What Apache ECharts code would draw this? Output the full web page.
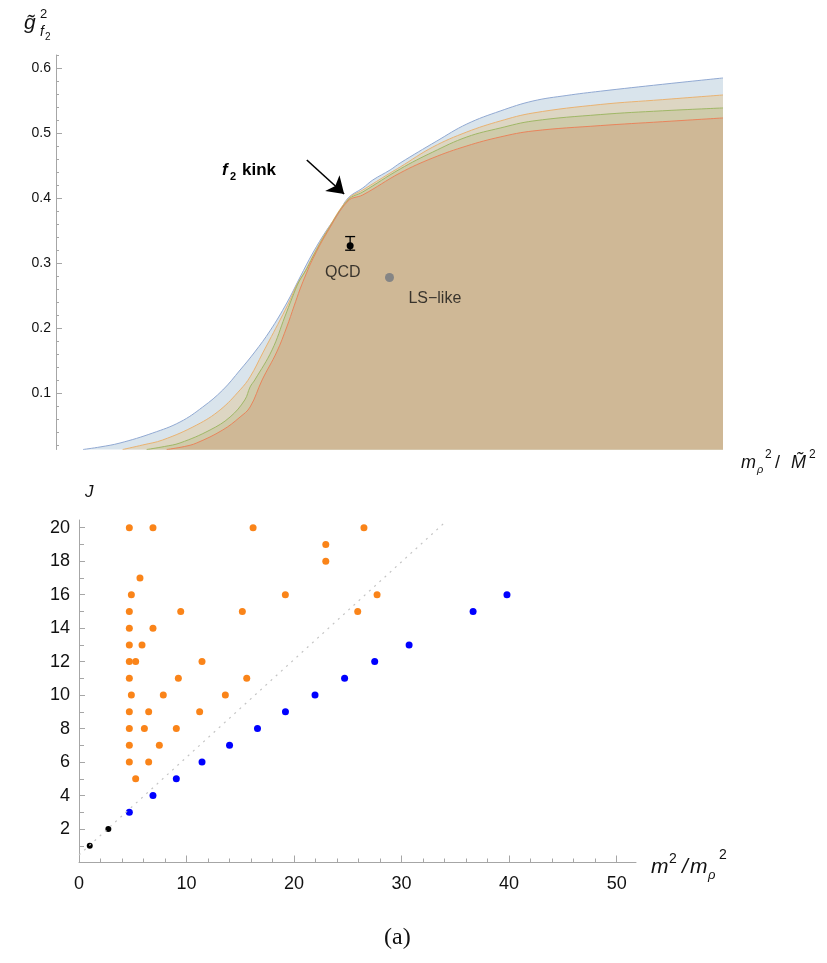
<!DOCTYPE html>
<html><head><meta charset="utf-8">
<script src="https://cdn.jsdelivr.net/npm/echarts@6/dist/echarts.min.js"></script>
<style>html,body{margin:0;padding:0;background:#fff}#c{width:827px;height:963px}</style>
</head><body><div id="c"></div>
<script>
// ---------- Top panel: g~^2_f2 bounds vs m_rho^2 / M~^2 (hidden x scale 0..1) ----------
const blueX = [0.0405,0.066,0.096,0.145,0.186,0.220,0.250,0.276,0.298,0.321,0.346,0.366,0.385,0.406,0.423,0.438,0.460,0.475,0.501,0.516,0.571,0.616,0.666,0.715,0.766,0.816,0.909,1.0];
const blueY = [0.0129,0.0168,0.0229,0.0383,0.0553,0.0784,0.1046,0.1354,0.1632,0.1960,0.2387,0.2787,0.3157,0.3512,0.3758,0.4005,0.4159,0.4282,0.4437,0.4544,0.4883,0.5145,0.5345,0.5499,0.5585,0.5650,0.5756,0.5854];
const orangeX = [0.100,0.130,0.160,0.211,0.246,0.276,0.291,0.310,0.336,0.351,0.361,0.372,0.385,0.406,0.438,0.460,0.501,0.516,0.565,0.616,0.666,0.715,0.816,0.909,1.0];
const orangeY = [0.0129,0.0199,0.0276,0.0507,0.0739,0.1048,0.1248,0.1618,0.2126,0.2435,0.2664,0.2850,0.3111,0.3496,0.3990,0.4128,0.4390,0.4482,0.4790,0.5022,0.5191,0.5314,0.5445,0.5520,0.5592];
const greenX = [0.136,0.163,0.186,0.231,0.261,0.283,0.291,0.298,0.324,0.343,0.354,0.364,0.375,0.385,0.406,0.438,0.460,0.516,0.565,0.616,0.666,0.715,0.816,0.909,1.0];
const greenY = [0.0129,0.0176,0.0230,0.0430,0.0630,0.0892,0.1093,0.1200,0.1664,0.2172,0.2464,0.2711,0.2896,0.3096,0.3482,0.3975,0.4098,0.4452,0.4713,0.4945,0.5083,0.5191,0.5290,0.5348,0.5392];
const redX = [0.166,0.193,0.211,0.250,0.276,0.291,0.309,0.331,0.346,0.357,0.366,0.375,0.385,0.406,0.438,0.460,0.516,0.565,0.616,0.666,0.715,0.816,0.909,1.0];
const redY = [0.0129,0.0176,0.0230,0.0430,0.0630,0.0784,0.1200,0.1633,0.2017,0.2341,0.2603,0.2834,0.3065,0.3466,0.3960,0.4052,0.4391,0.4622,0.4807,0.4945,0.5037,0.5120,0.5180,0.5238];
const qcdPoint = [0.441, 0.327];
const qcdErr = [0.320, 0.341];
const lsPoint = [0.500, 0.278];
const qcdLabelPos = [0.430, 0.286];
const lsLabelPos = [0.568, 0.246];
const kinkArrow = [[0.376, 0.459], [0.432, 0.4066]];
const topYLabels = [0.1,0.2,0.3,0.4,0.5,0.6];
const topYMinor = [0.02,0.04,0.06,0.08,0.12,0.14,0.16,0.18,0.22,0.24,0.26,0.28,0.32,0.34,0.36,0.38,0.42,0.44,0.46,0.48,0.52,0.54,0.56,0.58,0.62];

// ---------- Bottom panel: J vs m^2/m_rho^2 ----------
const blackX = [1.0, 2.73];
const blackJ = [1, 2];
const blueSX = [4.68,6.88,9.05,11.44,14.0,16.6,19.2,21.95,24.7,27.5,30.7,36.65,39.8];
const blueSJ = [3,4,5,6,7,8,9,10,11,12,13,15,16];
const orangeSX = [4.68,6.88,16.19,26.5, 22.95, 22.95, 5.67, 4.87,19.19,27.72, 4.68,9.46,15.19,25.92, 4.68,6.88, 4.68,5.86, 4.68,5.27,11.44, 4.68,9.24,15.6, 4.87,7.84,13.61, 4.68,6.48,11.22, 4.68,6.08,9.05, 4.68,7.47, 4.68,6.48, 5.27];
const orangeSJ = [20,20,20,20, 19, 18, 17, 16,16,16, 15,15,15,15, 14,14, 13,13, 12,12,12, 11,11,11, 10,10,10, 9,9,9, 8,8,8, 7,7, 6,6, 5];
const guideX = [0, 34];
const guideJ = [0.45, 20.3];
const botXLabels = [0,10,20,30,40,50];
const botXMinor = [2,4,6,8,12,14,16,18,22,24,26,28,32,34,36,38,42,44,46,48];
const botYLabels = [2,4,6,8,10,12,14,16,18,20];
const botYMinor = [1,3,5,7,9,11,13,15,17,19];

const zip = (a, b) => a.map((v, i) => [v, b[i]]);
const FONT = '"Liberation Sans", Arial, sans-serif';
const AX = '#a6a6a6';

const chart = echarts.init(document.getElementById('c'), null, {renderer: 'canvas'});

function areaSeries(x, y, line, fill) {
  return {
    type: 'line', xAxisIndex: 0, yAxisIndex: 0, data: zip(x, y), symbol: 'none',
    smooth: 0.4,
    lineStyle: {color: line, width: 1}, areaStyle: {color: fill, opacity: 1, origin: 'start'},
    silent: true, animation: false
  };
}

const option = {
  animation: false,
  backgroundColor: '#fff',
  grid: [
    {left: 56, right: 104, top: 55, bottom: 513.5},
    {left: 79, right: 191, top: 520, bottom: 100.5}
  ],
  xAxis: [
    {gridIndex: 0, type: 'value', min: 0, max: 1, show: false},
    {gridIndex: 1, type: 'value', min: 0, max: 51.8, position: 'bottom',
      axisLine: {show: true, lineStyle: {color: AX, width: 1}},
      axisTick: {show: true, inside: true, length: 7, customValues: botXLabels, lineStyle: {color: AX}},
      axisLabel: {customValues: botXLabels, color: '#111', fontSize: 18, fontFamily: FONT, margin: 13},
      splitLine: {show: false}},
    {gridIndex: 1, type: 'value', min: 0, max: 51.8, position: 'bottom',
      axisLine: {show: false},
      axisTick: {show: true, inside: true, length: 4, customValues: botXMinor, lineStyle: {color: AX}},
      axisLabel: {show: false}, splitLine: {show: false}}
  ],
  yAxis: [
    {gridIndex: 0, type: 'value', min: 0.0129, max: 0.6208, position: 'left',
      axisLine: {show: true, lineStyle: {color: AX, width: 1}},
      axisTick: {show: true, inside: true, length: 6, customValues: topYLabels, lineStyle: {color: AX}},
      axisLabel: {customValues: topYLabels, formatter: v => v.toFixed(1), color: '#111', fontSize: 14, fontFamily: FONT, margin: 5},
      splitLine: {show: false}},
    {gridIndex: 0, type: 'value', min: 0.0129, max: 0.6208, position: 'left',
      axisLine: {show: false},
      axisTick: {show: true, inside: true, length: 3, customValues: topYMinor, lineStyle: {color: AX}},
      axisLabel: {show: false}, splitLine: {show: false}},
    {gridIndex: 1, type: 'value', min: 0, max: 20.46, position: 'left',
      axisLine: {show: true, lineStyle: {color: AX, width: 1}},
      axisTick: {show: true, inside: true, length: 6, customValues: botYLabels, lineStyle: {color: AX}},
      axisLabel: {customValues: botYLabels, color: '#111', fontSize: 18, fontFamily: FONT, margin: 9},
      splitLine: {show: false}},
    {gridIndex: 1, type: 'value', min: 0, max: 20.46, position: 'left',
      axisLine: {show: false},
      axisTick: {show: true, inside: true, length: 5, customValues: botYMinor, lineStyle: {color: AX}},
      axisLabel: {show: false}, splitLine: {show: false}}
  ],
  series: [
    areaSeries(blueX, blueY, '#91a9d2', '#d9e4ec'),
    areaSeries(orangeX, orangeY, '#e9b271', '#ddd6c3'),
    areaSeries(greenX, greenY, '#9fb766', '#cfcbaa'),
    areaSeries(redX, redY, '#e8845c', '#cfb896'),
    {
      type: 'custom', xAxisIndex: 0, yAxisIndex: 0, silent: true, z: 5,
      data: [[qcdPoint[0], qcdErr[0], qcdErr[1]]],
      renderItem: function (params, api) {
        const lo = api.coord([api.value(0), api.value(1)]);
        const hi = api.coord([api.value(0), api.value(2)]);
        const w = 5;
        const st = {stroke: '#000', lineWidth: 1.3};
        return {type: 'group', children: [
          {type: 'line', shape: {x1: lo[0], y1: lo[1], x2: hi[0], y2: hi[1]}, style: st},
          {type: 'line', shape: {x1: lo[0] - w, y1: lo[1], x2: lo[0] + w, y2: lo[1]}, style: st},
          {type: 'line', shape: {x1: hi[0] - w, y1: hi[1], x2: hi[0] + w, y2: hi[1]}, style: st}
        ]};
      }
    },
    {
      type: 'scatter', xAxisIndex: 0, yAxisIndex: 0, silent: true, z: 6,
      data: [qcdPoint], symbol: 'circle', symbolSize: 7, itemStyle: {color: '#000', opacity: 1},
      markLine: {
        silent: true, symbol: ['none', 'arrow'], symbolSize: 16,
        label: {show: false},
        lineStyle: {color: '#000', width: 1.6, type: 'solid', opacity: 1},
        data: [[{coord: kinkArrow[0]}, {coord: kinkArrow[1]}]]
      }
    },
    {
      type: 'scatter', xAxisIndex: 0, yAxisIndex: 0, silent: true, z: 6,
      data: [lsPoint], symbol: 'circle', symbolSize: 9, itemStyle: {color: '#858585', opacity: 1}
    },
    {
      type: 'scatter', xAxisIndex: 0, yAxisIndex: 0, silent: true, z: 6,
      data: [
        {value: qcdLabelPos, name: 'QCD'},
        {value: lsLabelPos, name: 'LS\u2212like'}
      ],
      symbolSize: 0,
      label: {show: true, position: 'inside', formatter: p => p.name, color: '#111', fontSize: 16, fontFamily: FONT}
    },
    {
      type: 'line', xAxisIndex: 1, yAxisIndex: 2, data: zip(guideX, guideJ), symbol: 'none', silent: true,
      lineStyle: {color: '#c4c4c4', width: 1.2, type: [2, 5]}
    },
    {
      type: 'scatter', xAxisIndex: 1, yAxisIndex: 2, data: zip(orangeSX, orangeSJ), symbolSize: 7,
      itemStyle: {color: '#fa8419', opacity: 1}, silent: true
    },
    {
      type: 'scatter', xAxisIndex: 1, yAxisIndex: 2, data: zip(blueSX, blueSJ), symbolSize: 7,
      itemStyle: {color: '#0000ff', opacity: 1}, silent: true
    },
    {
      type: 'scatter', xAxisIndex: 1, yAxisIndex: 2, data: zip(blackX, blackJ), symbolSize: 6,
      itemStyle: {color: '#000', opacity: 1}, silent: true
    }
  ],
  graphic: [
    // top y-axis title  g~^2_{f2}
    {type: 'text', left: 24, top: 13, style: {text: 'g\u0303', font: 'italic 21px "Liberation Sans"', fill: '#111'}},
    {type: 'text', left: 40, top: 8, style: {text: '2', font: '13px "Liberation Sans"', fill: '#111'}},
    {type: 'text', left: 40, top: 25, style: {text: 'f', font: 'italic 14px "Liberation Sans"', fill: '#111'}},
    {type: 'text', left: 45, top: 32, style: {text: '2', font: '10px "Liberation Sans"', fill: '#111'}},
    // top x-axis title  m_rho^2 / M~^2
    {type: 'text', left: 741, top: 454, style: {text: 'm', font: 'italic 18px "Liberation Sans"', fill: '#111'}},
    {type: 'text', left: 757, top: 464, style: {text: '\u03c1', font: 'italic 11px "Liberation Sans"', fill: '#111'}},
    {type: 'text', left: 765, top: 449, style: {text: '2', font: '12px "Liberation Sans"', fill: '#111'}},
    {type: 'text', left: 775, top: 454, style: {text: '/', font: '18px "Liberation Sans"', fill: '#111'}},
    {type: 'text', left: 791, top: 454, style: {text: 'M\u0303', font: 'italic 18px "Liberation Sans"', fill: '#111'}},
    {type: 'text', left: 809, top: 449, style: {text: '2', font: '12px "Liberation Sans"', fill: '#111'}},
    // f2 kink
    {type: 'text', left: 222, top: 162, style: {text: 'f', font: 'italic bold 17px "Liberation Sans"', fill: '#000'}},
    {type: 'text', left: 230, top: 171, style: {text: '2', font: 'bold 11px "Liberation Sans"', fill: '#000'}},
    {type: 'text', left: 242, top: 162, style: {text: 'kink', font: 'bold 17px "Liberation Sans"', fill: '#000'}},
    // bottom axis titles
    {type: 'text', left: 85, top: 484, style: {text: 'J', font: 'italic 17px "Liberation Sans"', fill: '#111'}},
    {type: 'text', left: 651, top: 857, style: {text: 'm', font: 'italic 21px "Liberation Sans"', fill: '#111'}},
    {type: 'text', left: 669, top: 852, style: {text: '2', font: '14px "Liberation Sans"', fill: '#111'}},
    {type: 'text', left: 682, top: 857, style: {text: '/', font: 'italic 21px "Liberation Sans"', fill: '#111'}},
    {type: 'text', left: 690, top: 857, style: {text: 'm', font: 'italic 21px "Liberation Sans"', fill: '#111'}},
    {type: 'text', left: 708, top: 869, style: {text: '\u03c1', font: 'italic 13px "Liberation Sans"', fill: '#111'}},
    {type: 'text', left: 719, top: 848, style: {text: '2', font: '14px "Liberation Sans"', fill: '#111'}},
    // caption
    {type: 'text', left: 384, top: 926, style: {text: '(a)', font: '24px "Liberation Serif"', fill: '#111'}}
  ]
};
chart.setOption(option);
</script>
</body></html>
